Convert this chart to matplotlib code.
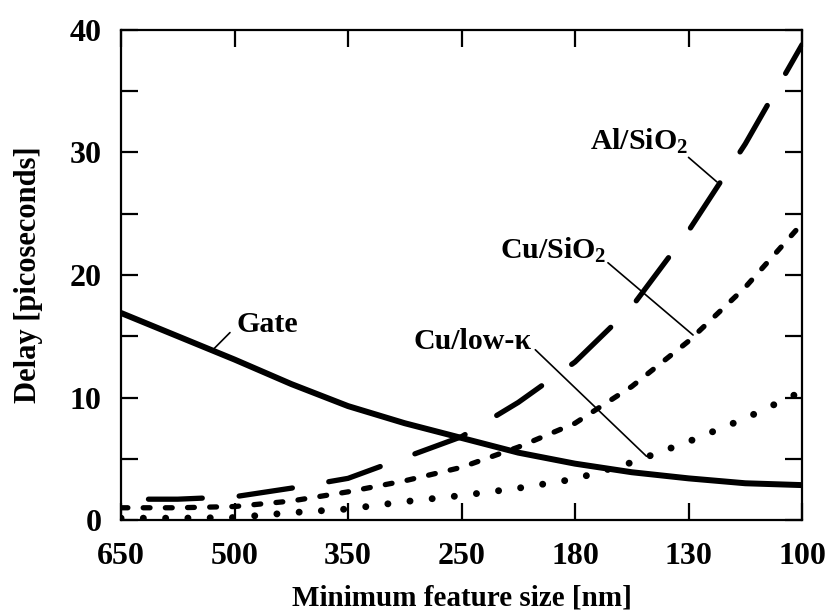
import numpy as np
import matplotlib
matplotlib.use('Agg')
import matplotlib.pyplot as plt
from matplotlib.ticker import MultipleLocator

# Gate delay vs interconnect delay for shrinking technology nodes.
# The x axis is not linear: the nodes are placed at equal steps.
node_labels = ['650', '500', '350', '250', '180', '130', '100']

# positions along the axis where values were read (half node steps)
node_pos = [0, 0.5, 1, 1.5, 2, 2.5, 3, 3.5, 4, 4.5, 5, 5.5, 6]

# delays in picoseconds
gate_delay = [16.9, 15.0, 13.1, 11.1, 9.3, 7.9, 6.7, 5.5, 4.6, 3.9, 3.4, 3.0, 2.85]
al_sio2 = [1.7, 1.7, 1.9, 2.6, 3.4, 5.1, 6.8, 9.6, 12.9, 17.4, 23.6, 30.7, 38.8]
cu_sio2 = [1.0, 1.0, 1.1, 1.55, 2.3, 3.2, 4.3, 5.95, 7.9, 10.9, 14.6, 19.0, 24.2]
cu_lowk = [0.15, 0.15, 0.2, 0.6, 0.9, 1.5, 2.0, 2.6, 3.35, 4.7, 6.4, 8.3, 10.5]

plt.rcParams['font.family'] = ['Liberation Serif', 'DejaVu Serif']
plt.rcParams['font.weight'] = 'bold'
plt.rcParams['axes.labelweight'] = 'bold'
plt.rcParams['mathtext.fontset'] = 'custom'
plt.rcParams['mathtext.rm'] = 'Liberation Serif:bold'
plt.rcParams['mathtext.it'] = 'Liberation Serif:bold'
plt.rcParams['mathtext.bf'] = 'Liberation Serif:bold'

fig = plt.figure(figsize=(8.3, 6.12), dpi=100)
ax = fig.add_axes([0.1458, 0.1503, 0.8205, 0.8007])

# curves
ax.plot(node_pos, gate_delay, color='black', lw=4.3, solid_capstyle='butt',
        solid_joinstyle='round')
ax.plot(node_pos, al_sio2, color='black', lw=3.8,
        linestyle=(12.0, (10.2, 7.0)), dash_capstyle='round')
ax.plot(node_pos, cu_sio2, color='black', lw=3.8,
        linestyle=(0, (1.3, 2.9)), dash_capstyle='round')
ax.plot(node_pos, cu_lowk, color='black', lw=5.0,
        linestyle=(0, (0.01, 3.2)), dash_capstyle='round')

# labels with leader lines
lbl_size = 21.5
leader = dict(arrowstyle='-', color='black', lw=1.2, shrinkA=0, shrinkB=0)
ax.annotate('', xy=(0.96, 15.3), xytext=(0.81, 13.9), arrowprops=leader)
ax.text(1.02, 15.35, 'Gate', fontsize=lbl_size, ha='left', va='baseline')

ax.annotate('', xy=(4.63, 5.2), xytext=(3.65, 13.9), arrowprops=leader)
ax.text(3.62, 14.0, 'Cu/low-\u03ba', fontsize=lbl_size, ha='right',
        va='baseline')

ax.annotate('', xy=(5.04, 15.1), xytext=(4.29, 21.0), arrowprops=leader)
ax.text(4.28, 21.3, 'Cu/SiO$_2$', fontsize=lbl_size, ha='right',
        va='baseline')

ax.annotate('', xy=(5.25, 27.6), xytext=(5.0, 29.6), arrowprops=leader)
ax.text(5.0, 30.2, 'Al/SiO$_2$', fontsize=lbl_size, ha='right',
        va='baseline')

# axes
ax.set_xlim(0, 6)
ax.set_ylim(0, 40)
ax.set_xticks(range(len(node_labels)))
ax.set_xticklabels(node_labels)
ax.yaxis.set_major_locator(MultipleLocator(10))
ax.yaxis.set_minor_locator(MultipleLocator(5))

ax.tick_params(which='both', direction='in', top=True, right=True,
               length=12, width=1.6, labelsize=23, pad=14)
ax.tick_params(axis='x', pad=16)
for s in ax.spines.values():
    s.set_linewidth(1.6)

ax.set_xlabel('Minimum feature size [nm]', fontsize=21)
ax.set_ylabel('Delay [picoseconds]', fontsize=22)
ax.xaxis.set_label_coords(0.5, -0.131)
ax.yaxis.set_label_coords(-0.1145, 0.5)

fig.savefig('out.png', dpi=100)
